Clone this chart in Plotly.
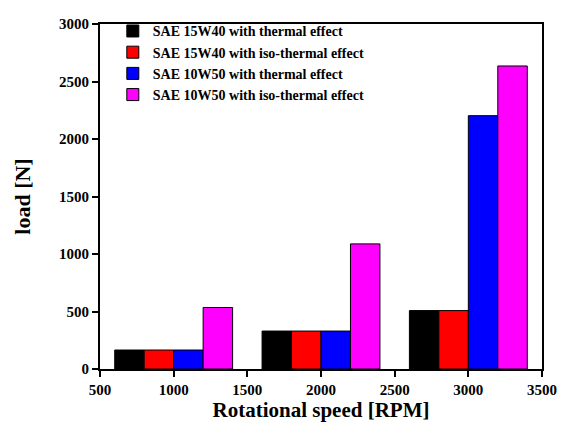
import plotly.graph_objects as go

speeds = [1000, 2000, 3000]
series_names = [
    "SAE 15W40 with thermal effect",
    "SAE 15W40 with iso-thermal effect",
    "SAE 10W50 with thermal effect",
    "SAE 10W50 with iso-thermal effect",
]
load_15w40_thermal = [165, 330, 508]
load_15w40_iso = [165, 330, 508]
load_10w50_thermal = [165, 330, 2203]
load_10w50_iso = [535, 1088, 2635]
colors = ["#000000", "#ff0000", "#0000ff", "#ff00ff"]

series = [load_15w40_thermal, load_15w40_iso, load_10w50_thermal, load_10w50_iso]

font_family = "Liberation Serif"
fig = go.Figure()
for name, vals, c in zip(series_names, series, colors):
    fig.add_trace(go.Bar(
        x=speeds, y=vals, name=name,
        marker=dict(color=c, line=dict(color="black", width=1)),
    ))

fig.update_layout(
    width=558, height=420,
    barmode="group", bargap=0.2, bargroupgap=0,
    plot_bgcolor="white", paper_bgcolor="white",
    margin=dict(l=92, r=24, t=7, b=59),
    font=dict(family=font_family, color="black"),
    legend=dict(
        x=0.029, y=1.025, xanchor="left", yanchor="top",
        borderwidth=0, bgcolor="rgba(0,0,0,0)",
        font=dict(family=font_family, size=14, color="black", weight="bold"),
        tracegroupgap=0, itemwidth=30,
    ),
    showlegend=True,
)
fig.update_xaxes(
    range=[500, 3500], tickvals=[500, 1000, 1500, 2000, 2500, 3000, 3500],
    ticks="outside", ticklen=6, tickwidth=2, tickcolor="black",
    showline=True, linewidth=2, linecolor="black", mirror=True,
    showgrid=False, zeroline=False,
    tickfont=dict(family=font_family, size=15, color="black", weight="bold"),
    title=dict(text="Rotational speed [RPM]", standoff=2,
               font=dict(family=font_family, size=21, color="black", weight="bold")),
)
fig.update_yaxes(
    range=[0, 3000], tickvals=[0, 500, 1000, 1500, 2000, 2500, 3000],
    ticks="outside", ticklen=6, tickwidth=2, tickcolor="black",
    showline=True, linewidth=2, linecolor="black", mirror=True,
    showgrid=False, zeroline=False,
    tickfont=dict(family=font_family, size=15, color="black", weight="bold"),
    title=dict(text="load [N]", standoff=22,
               font=dict(family=font_family, size=22, color="black", weight="bold")),
)

fig.write_html("out.html")
